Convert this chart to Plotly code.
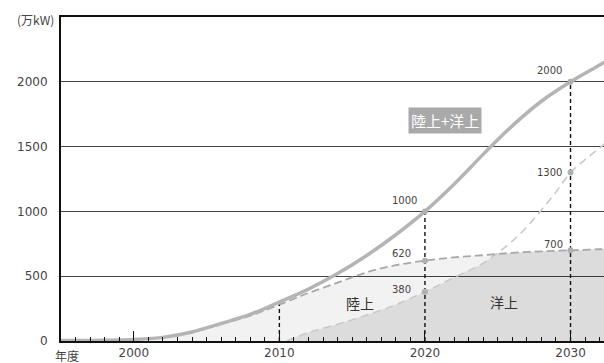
import numpy as np
import plotly.graph_objects as go

# ---- data ----
total_years = [1995, 1998, 2000, 2002, 2004, 2006, 2008, 2010, 2012, 2014, 2016, 2018,
               2020, 2022, 2024, 2026, 2028, 2030, 2032, 2033]
total_vals = [3, 6, 12, 28, 70, 135, 205, 300, 400, 520, 660, 820,
              1000, 1210, 1440, 1660, 1850, 2000, 2130, 2195]

onshore_years = [2001, 2002, 2004, 2006, 2008, 2010, 2012, 2014, 2016, 2018, 2020,
                 2022, 2024, 2026, 2028, 2030, 2032, 2033]
onshore_vals = [18, 27, 68, 130, 195, 280, 370, 450, 530, 585, 620,
                645, 662, 680, 692, 700, 708, 712]

offshore_years = [2010.5, 2012, 2014, 2016, 2018, 2020, 2022, 2024, 2025, 2026, 2027,
                  2028, 2029, 2030, 2031, 2032, 2033]
offshore_vals = [0, 65, 130, 200, 280, 380, 490, 600, 680, 770, 880,
                 1010, 1150, 1300, 1400, 1490, 1580]

key_years = [2020, 2030]
guide_years = [2010, 2020, 2030]

y_ticks = [0, 500, 1000, 1500, 2000]

label_total = "陸上+洋上"
label_on = "陸上"
label_off = "洋上"
y_unit = "(万kW)"
x_unit = "年度"

NUM_FONT = "DejaVu Sans"
JP_FONT = "Noto Sans CJK JP"


def value_at(years, vals, yr):
    return vals[years.index(yr)]


fig = go.Figure()

# light fill under onshore
fig.add_trace(go.Scatter(x=onshore_years, y=onshore_vals, mode="lines",
                         line=dict(width=0, shape="spline"), fill="tozeroy",
                         fillcolor="rgba(0,0,0,0.05)", hoverinfo="skip", showlegend=False))

# darker fill under min(onshore, offshore)
off_arr = np.array(offshore_vals, dtype=float)
on_at_off = np.interp(offshore_years, onshore_years, onshore_vals)
min_vals = np.minimum(off_arr, on_at_off)
fig.add_trace(go.Scatter(x=offshore_years, y=min_vals, mode="lines",
                         line=dict(width=0, shape="spline"), fill="tozeroy",
                         fillcolor="rgba(0,0,0,0.09)", hoverinfo="skip", showlegend=False))

# offshore dashed line
fig.add_trace(go.Scatter(x=offshore_years, y=offshore_vals, mode="lines",
                         line=dict(color="#c9c9c9", width=1.6, dash="8px,5px", shape="spline"),
                         showlegend=False))
# onshore dashed line
fig.add_trace(go.Scatter(x=onshore_years[1:], y=onshore_vals[1:], mode="lines",
                         line=dict(color="#a8a8a8", width=1.8, dash="8px,4px", shape="spline"),
                         showlegend=False))
# total solid line
fig.add_trace(go.Scatter(x=total_years, y=total_vals, mode="lines",
                         line=dict(color="#b4b4b4", width=3.5, shape="spline"),
                         showlegend=False))

# vertical guide lines
guide_tops = [value_at(onshore_years, onshore_vals, guide_years[0])] + \
             [value_at(total_years, total_vals, y) for y in guide_years[1:]]
for gx, gt in zip(guide_years, guide_tops):
    fig.add_trace(go.Scatter(x=[gx, gx], y=[0, gt], mode="lines",
                             line=dict(color="#111111", width=1.4, dash="4px,3px"),
                             showlegend=False, hoverinfo="skip"))

# markers at key years
mk_x, mk_y = [], []
for yr in key_years:
    for ys, vs in ((total_years, total_vals), (onshore_years, onshore_vals),
                   (offshore_years, offshore_vals)):
        mk_x.append(yr)
        mk_y.append(value_at(ys, vs, yr))
fig.add_trace(go.Scatter(x=mk_x, y=mk_y, mode="markers",
                         marker=dict(color="#b0b0b0", size=6, line=dict(width=0)),
                         showlegend=False))

# value labels
shifts = {  # (series, year): (xshift, yshift)
    ("t", 2020): (-6, 11), ("o", 2020): (-12, 7), ("f", 2020): (-12, 2),
    ("t", 2030): (-7, 11), ("o", 2030): (-6, 6), ("f", 2030): (-7, 0),
}
series = {"t": (total_years, total_vals), "o": (onshore_years, onshore_vals),
          "f": (offshore_years, offshore_vals)}
for (k, yr), (dx, dy) in shifts.items():
    ys, vs = series[k]
    v = value_at(ys, vs, yr)
    fig.add_annotation(x=yr, y=v, text=str(v), showarrow=False, xanchor="right",
                       yanchor="middle", xshift=dx, yshift=dy,
                       font=dict(family=NUM_FONT, size=10, color="#444444"))

# area labels
fig.add_annotation(x=2015.55, y=293, text=label_on, showarrow=False,
                   font=dict(family=JP_FONT, size=14, color="#333333"))
fig.add_annotation(x=2025.45, y=301, text=label_off, showarrow=False,
                   font=dict(family=JP_FONT, size=14, color="#333333"))
fig.add_annotation(x=2021.4, y=1700, text=label_total, showarrow=False,
                   bgcolor="#a9a9a9", borderpad=2,
                   font=dict(family=JP_FONT, size=15, color="#ffffff"))

# axis unit labels
fig.add_annotation(xref="paper", yref="paper", x=-0.01, y=1, xanchor="right",
                   yanchor="middle", yshift=-2, text=y_unit, showarrow=False,
                   font=dict(family=JP_FONT, size=12, color="#444444"))
fig.add_annotation(xref="paper", yref="paper", x=0.011, y=0, xanchor="center",
                   yanchor="top", yshift=-4, text=x_unit, showarrow=False,
                   font=dict(family=JP_FONT, size=12, color="#444444"))

fig.update_layout(
    width=604, height=363,
    margin=dict(l=61, r=0, t=17, b=22),
    paper_bgcolor="white", plot_bgcolor="white",
    showlegend=False,
    xaxis=dict(range=[1995, 2032.3], tick0=2000, dtick=10, ticks="inside",
               ticklen=10, tickwidth=1, tickcolor="#111111",
               minor=dict(dtick=1, tick0=1995, ticks="inside", ticklen=4,
                          tickwidth=1, tickcolor="#111111"),
               showgrid=False, zeroline=False, showline=True, linecolor="#111111",
               linewidth=2, mirror=True,
               tickfont=dict(family=NUM_FONT, size=12, color="#444444")),
    yaxis=dict(range=[0, 2500], tickvals=y_ticks, ticks="", showgrid=True,
               gridcolor="#444444", gridwidth=1.2, zeroline=False, showline=True,
               linecolor="#111111", linewidth=2, ticklabelstandoff=9,
               tickfont=dict(family=NUM_FONT, size=12, color="#444444")),
)

fig.write_html("out.html")
